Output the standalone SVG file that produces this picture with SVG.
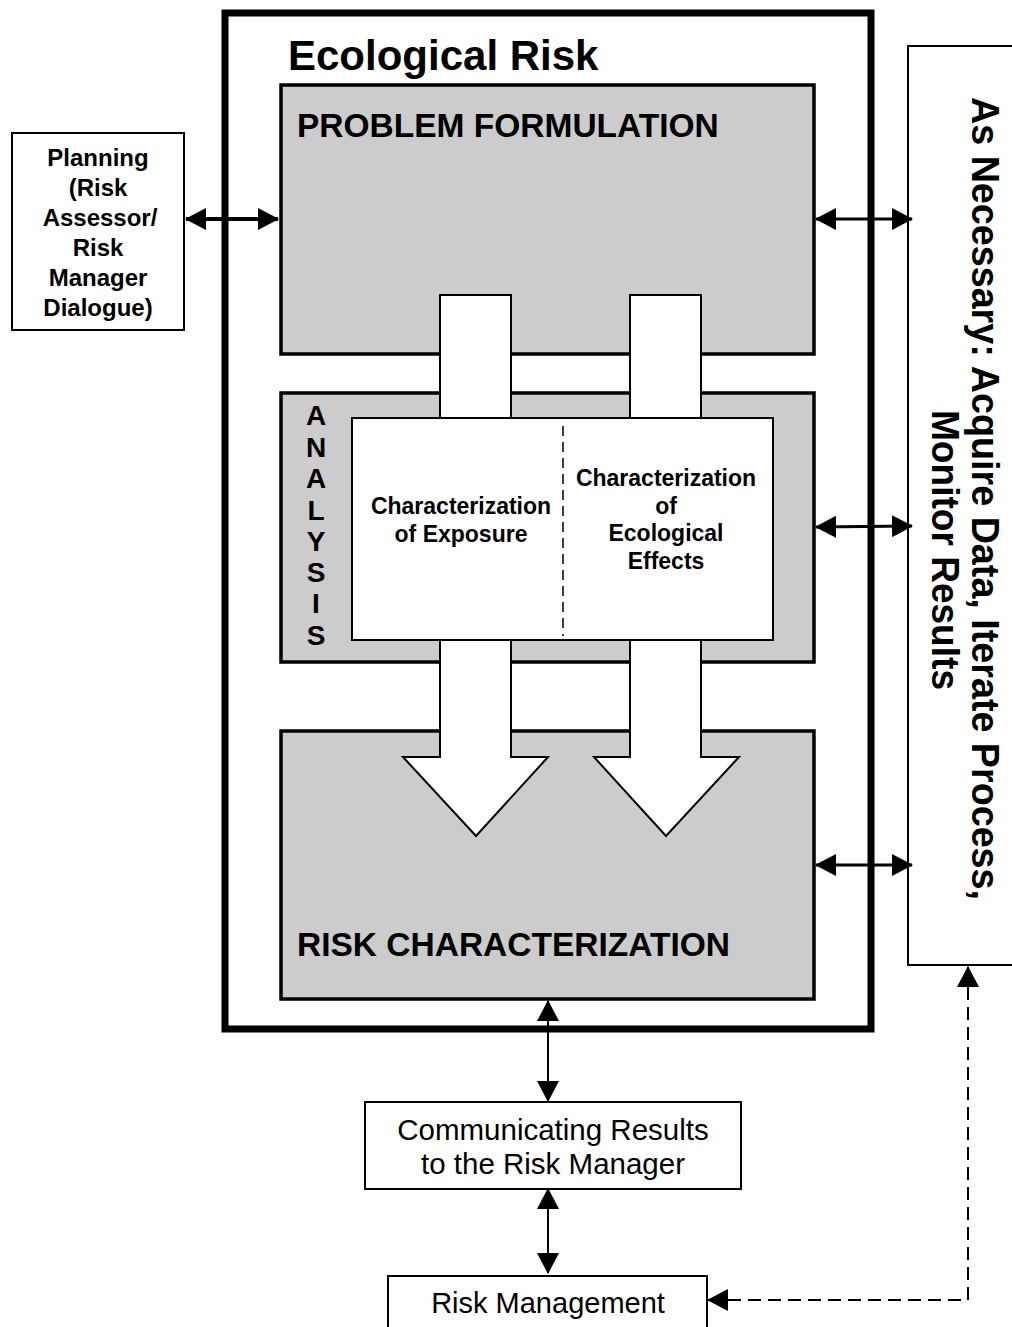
<svg xmlns="http://www.w3.org/2000/svg" width="1012" height="1327" viewBox="0 0 1012 1327">
<style>
  .box { fill: #ffffff; stroke: #000; stroke-width: 2; }
  .gray { fill: #cccccc; stroke: #000; stroke-width: 3.5; }
  .bar { fill: #ffffff; stroke: #000; stroke-width: 2; }
  .b { font-family: "Liberation Sans", Arial, sans-serif; font-weight: bold; fill: #000; }
  .r { font-family: "Liberation Sans", Arial, sans-serif; fill: #000; }
  .conn { stroke: #000; fill: none; }
</style>
<defs>
  <marker id="ah" markerUnits="userSpaceOnUse" markerWidth="22" markerHeight="22" refX="20" refY="11" orient="auto-start-reverse" viewBox="0 0 22 22">
    <path d="M0,0 L21,11 L0,22 Z" fill="#000"/>
  </marker>
</defs>
<rect width="1012" height="1327" fill="#fff"/>

<g id="ecological-risk">
  <rect x="225" y="13" width="646" height="1016" fill="#fff" stroke="#000" stroke-width="7"/>
  <text class="b" x="288" y="70" font-size="42">Ecological Risk</text>
</g>

<g id="problem-formulation">
  <rect class="gray" x="281" y="85" width="533" height="269"/>
  <text class="b" x="297" y="137" font-size="33.5">PROBLEM FORMULATION</text>
</g>

<g id="analysis">
  <rect class="gray" x="281" y="393" width="533" height="269"/>
  <g class="b" font-size="28" text-anchor="middle">
    <text x="316" y="425">A</text>
    <text x="316" y="457">N</text>
    <text x="316" y="488">A</text>
    <text x="316" y="520">L</text>
    <text x="316" y="551">Y</text>
    <text x="316" y="582">S</text>
    <text x="316" y="613">I</text>
    <text x="316" y="645">S</text>
  </g>
</g>

<g id="risk-characterization">
  <rect class="gray" x="281" y="731" width="533" height="268"/>
  <text class="b" x="297" y="956" font-size="33.5">RISK CHARACTERIZATION</text>
</g>

<g id="flow-arrows">
  <polygon class="bar" points="440,295 511,295 511,757 548,757 476,836 403,757 440,757"/>
  <polygon class="bar" points="630,295 701,295 701,757 739,757 666,836 594,757 630,757"/>
</g>

<g id="analysis-inner">
  <rect class="box" x="352" y="418" width="421" height="222"/>
  <line x1="563" y1="426" x2="563" y2="636" stroke="#000" stroke-width="1.5" stroke-dasharray="10,6"/>
  <g class="b" font-size="23" text-anchor="middle">
    <text x="461" y="514">Characterization</text>
    <text x="461" y="542">of Exposure</text>
    <text x="666" y="486">Characterization</text>
    <text x="666" y="514">of</text>
    <text x="666" y="541">Ecological</text>
    <text x="666" y="569">Effects</text>
  </g>
</g>

<g id="planning">
  <rect class="box" x="12" y="133" width="172" height="197"/>
  <g class="b" font-size="24" text-anchor="middle">
    <text x="98" y="166">Planning</text>
    <text x="98" y="196">(Risk</text>
    <text x="100" y="226">Assessor/</text>
    <text x="98" y="256">Risk</text>
    <text x="98" y="286">Manager</text>
    <text x="98" y="316">Dialogue)</text>
  </g>
</g>

<g id="as-necessary">
  <rect class="box" x="908" y="46" width="130" height="919"/>
  <g transform="translate(972,97) rotate(90)">
    <text class="b" x="0" y="0" font-size="38" textLength="803" lengthAdjust="spacingAndGlyphs">As Necessary:  Acquire Data, Iterate Process,</text>
    <text class="b" x="313" y="40" font-size="38" textLength="280" lengthAdjust="spacingAndGlyphs">Monitor Results</text>
  </g>
</g>

<g id="communicating">
  <rect class="box" x="365" y="1102" width="376" height="87"/>
  <g class="r" font-size="29.5" text-anchor="middle">
    <text x="553" y="1140">Communicating Results</text>
    <text x="553" y="1174">to the Risk Manager</text>
  </g>
</g>

<g id="risk-management">
  <rect class="box" x="388" y="1276" width="319" height="60"/>
  <text class="r" x="548" y="1313" font-size="29" text-anchor="middle">Risk Management</text>
</g>

<g id="connectors">
  <line class="conn" x1="186" y1="219" x2="278" y2="219" stroke-width="4" marker-start="url(#ah)" marker-end="url(#ah)"/>
  <line class="conn" x1="816" y1="219" x2="912" y2="219" stroke-width="3" marker-start="url(#ah)" marker-end="url(#ah)"/>
  <line class="conn" x1="816" y1="527" x2="912" y2="526" stroke-width="3" marker-start="url(#ah)" marker-end="url(#ah)"/>
  <line class="conn" x1="816" y1="865" x2="912" y2="865" stroke-width="3" marker-start="url(#ah)" marker-end="url(#ah)"/>
  <line class="conn" x1="548" y1="1001" x2="548" y2="1101" stroke-width="2" marker-start="url(#ah)" marker-end="url(#ah)"/>
  <line class="conn" x1="548" y1="1189" x2="548" y2="1273" stroke-width="2" marker-start="url(#ah)" marker-end="url(#ah)"/>
  <polyline class="conn" points="708,1300 968,1300 968,967" stroke-width="2" stroke-dasharray="13,7" marker-start="url(#ah)" marker-end="url(#ah)"/>
</g>
</svg>
